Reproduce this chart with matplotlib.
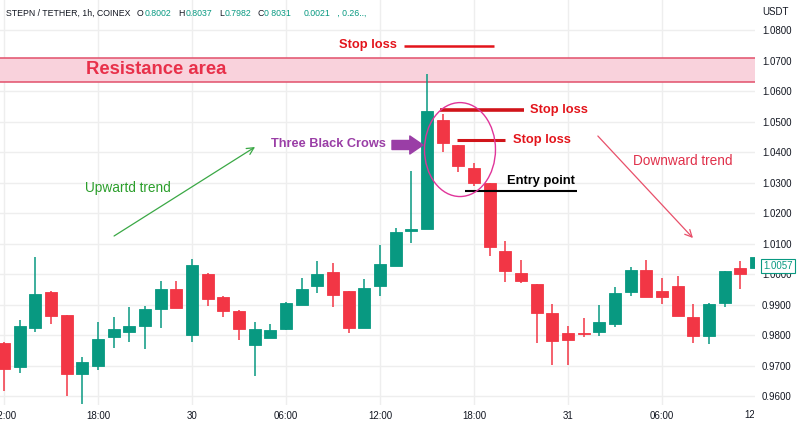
import matplotlib
matplotlib.use("Agg")
import matplotlib.pyplot as plt
from matplotlib.patches import Ellipse
from matplotlib.transforms import Bbox, TransformedBbox

# ---------------- data ----------------
opens = [0.9774, 0.9695, 0.9822, 0.9941, 0.9865, 0.9672, 0.9699, 0.9793, 0.9811, 0.9830,
         0.9885, 0.9950, 0.9801, 1.0001, 0.9926, 0.9880, 0.9766, 0.9791, 0.9820, 0.9898,
         0.9962, 1.0006, 0.9944, 0.9824, 0.9962, 1.0027, 1.0140, 1.0149, 1.0505, 1.0423,
         1.0347, 1.0299, 1.0075, 1.0002, 0.9966, 0.9871, 0.9807, 0.9807, 0.9810, 0.9837,
         0.9940, 1.0013, 0.9944, 0.9961, 0.9860, 0.9798, 0.9906, 1.0020, 1.0019]
highs = [0.9778, 0.9848, 1.0057, 0.9943, 0.9866, 0.9729, 0.9843, 0.9858, 0.9892, 0.9894,
         0.9977, 0.9977, 1.0049, 1.0002, 0.9927, 0.9882, 0.9844, 0.9836, 0.9909, 0.9987,
         1.0043, 1.0037, 0.9945, 0.9984, 1.0094, 1.0150, 1.0338, 1.0655, 1.0524, 1.0424,
         1.0363, 1.0300, 1.0108, 1.0046, 0.9967, 0.9902, 0.9830, 0.9855, 0.9899, 0.9957,
         1.0022, 1.0046, 0.9987, 0.9993, 0.9901, 0.9904, 1.0011, 1.0043, 1.0060]
lows = [0.9617, 0.9676, 0.9809, 0.9837, 0.9601, 0.9574, 0.9685, 0.9756, 0.9778, 0.9753,
        0.9822, 0.9887, 0.9778, 0.9896, 0.9859, 0.9785, 0.9666, 0.9790, 0.9815, 0.9897,
        0.9938, 0.9893, 0.9808, 0.9823, 0.9927, 1.0026, 1.0101, 1.0148, 1.0401, 1.0335,
        1.0290, 1.0059, 0.9975, 0.9971, 0.9775, 0.9702, 0.9702, 0.9794, 0.9796, 0.9827,
        0.9928, 0.9923, 0.9903, 0.9861, 0.9775, 0.9771, 0.9893, 0.9951, 1.0019]
closes = [0.9690, 0.9830, 0.9934, 0.9861, 0.9672, 0.9711, 0.9787, 0.9821, 0.9830, 0.9886,
          0.9952, 0.9889, 1.0030, 0.9917, 0.9878, 0.9820, 0.9821, 0.9815, 0.9905, 0.9950,
          1.0000, 0.9932, 0.9824, 0.9954, 1.0033, 1.0137, 1.0149, 1.0535, 1.0430, 1.0353,
          1.0299, 1.0088, 1.0011, 0.9977, 0.9873, 0.9780, 0.9784, 0.9803, 0.9843, 0.9937,
          1.0013, 0.9924, 0.9926, 0.9862, 0.9798, 0.9903, 1.0010, 1.0001, 1.0057]

tick_positions = [0, 6, 12, 18, 24, 30, 36, 42, 48]
tick_labels = ["12:00", "18:00", "30", "06:00", "12:00", "18:00", "31", "06:00", "12:00"]
price_ticks = [0.96, 0.97, 0.98, 0.99, 1.00, 1.01, 1.02, 1.03, 1.04, 1.05, 1.06, 1.07, 1.08]

resistance_low, resistance_high = 1.0630, 1.0709
last_price = 1.0057

# ---------------- style ----------------
UP = "#089981"
DOWN = "#f23645"
TXT = "#131722"
GRID = "#eeeeee"
FONT = "Liberation Sans"
plt.rcParams["font.family"] = [FONT, "DejaVu Sans"]

W, H = 800, 428
fig = plt.figure(figsize=(W / 100, H / 100), dpi=100)
fig.patch.set_facecolor("white")
ax = fig.add_axes([0, 23 / H, 755 / W, 405 / H])
ax.set_facecolor("white")

n = len(opens)
idx = list(range(n))

# grid
for t in tick_positions:
    ax.axvline(t, color=GRID, lw=1, zorder=0)
for p in price_ticks:
    ax.axhline(p, color=GRID, lw=1, zorder=0)

# resistance band
ax.axhspan(resistance_low, resistance_high, facecolor="#f9d2dc", edgecolor="none", zorder=1)
ax.axhline(resistance_high, color="#e2506b", lw=1.1, zorder=1.5)
ax.axhline(resistance_low, color="#e2506b", lw=1.1, zorder=1.5)

# candles
colors = [UP if c >= o else DOWN for o, c in zip(opens, closes)]
ax.vlines(idx, lows, highs, colors=colors, lw=1.1, zorder=2)
bottoms = [min(o, c) for o, c in zip(opens, closes)]
heights = [max(abs(c - o), 0.00035) for o, c in zip(opens, closes)]
ax.bar(idx, heights, bottom=bottoms, width=0.76, color=colors, edgecolor=colors,
       linewidth=0.6, zorder=3)

ax.set_xlim(-0.26, 47.93)
ax.set_ylim(0.95705, 1.08984)

# axes styling
for s in ax.spines.values():
    s.set_visible(False)
ax.yaxis.tick_right()
ax.set_yticks(price_ticks)
ax.set_yticklabels([f"{p:.4f}" for p in price_ticks])
ax.tick_params(axis="y", length=0, pad=5, labelsize=7, labelcolor=TXT)
ax.set_xticks(tick_positions[:-1])
ax.set_xticklabels(tick_labels[:-1])
ax.tick_params(axis="x", length=0, pad=4, labelsize=7, labelcolor=TXT)

# last x label, clipped at the price-scale edge like the original
t_last = ax.text(tick_positions[-1], -0.0135, tick_labels[-1], transform=ax.get_xaxis_transform(),
                 ha="center", va="top", fontsize=7, color=TXT, clip_on=True)
t_last.set_clip_box(TransformedBbox(Bbox.from_extents(0, 0, 754 / W, 1), fig.transFigure))

# ---------------- annotations ----------------
RED = "#e3141b"
ax.text(5.2, 1.0671, "Resistance area", color="#e8304a", fontsize=13.3, fontweight="bold",
        va="center", ha="left", zorder=5)

# stop loss lines
ax.plot([25.5, 31.3], [1.0748, 1.0748], color=RED, lw=1.8, zorder=5, solid_capstyle="butt")
ax.text(23.2, 1.0751, "Stop loss", color=RED, fontsize=9.3, fontweight="bold",
        ha="center", va="center", zorder=5)
ax.plot([27.8, 33.2], [1.0538, 1.0538], color="#d0141a", lw=2.6, zorder=5, solid_capstyle="butt")
ax.text(33.6, 1.0538, "Stop loss", color=RED, fontsize=9.3, fontweight="bold",
        ha="left", va="center", zorder=5)
ax.plot([28.9, 32.0], [1.0439, 1.0439], color="#d0141a", lw=2.2, zorder=5, solid_capstyle="butt")
ax.text(32.5, 1.0439, "Stop loss", color=RED, fontsize=9.3, fontweight="bold",
        ha="left", va="center", zorder=5)

# entry point
ax.plot([29.4, 36.6], [1.0272, 1.0272], color="black", lw=1.5, zorder=5, solid_capstyle="butt")
ax.text(32.1, 1.0305, "Entry point", color="black", fontsize=9.3, fontweight="bold",
        ha="left", va="center", zorder=5)

# ellipse
ax.add_patch(Ellipse((29.1, 1.0408), 4.53, 0.0308, fill=False, edgecolor="#e0359a",
                     lw=1.0, zorder=6))

# three black crows arrow
PURPLE = "#9a3ea6"
ax.annotate("", xy=(26.74, 1.0423), xytext=(24.76, 1.0423),
            arrowprops=dict(arrowstyle="simple,head_length=0.95,head_width=1.3,tail_width=0.65",
                            color=PURPLE, shrinkA=0, shrinkB=0), zorder=6)
ax.text(20.7, 1.0426, "Three Black Crows", color=PURPLE, fontsize=9.2, fontweight="bold",
        ha="center", va="center", zorder=5)

# trends
ax.annotate("", xy=(16.02, 1.04164), xytext=(7.02, 1.01246),
            arrowprops=dict(arrowstyle="->,head_length=0.5,head_width=0.25", color="#3aa845",
                            lw=0.9, shrinkA=0, shrinkB=0), zorder=5)
ax.text(7.9, 1.0282, "Upwartd trend", color="#2b9e2b", fontsize=9.8, ha="center",
        va="center", zorder=5)
ax.annotate("", xy=(43.97, 1.0118), xytext=(37.9, 1.04525),
            arrowprops=dict(arrowstyle="->,head_length=0.5,head_width=0.25", color="#e8506a",
                            lw=0.9, shrinkA=0, shrinkB=0), zorder=5)
ax.text(43.3, 1.0370, "Downward trend", color="#e0304a", fontsize=9.8, ha="center",
        va="center", zorder=5)

# ---------------- header & price scale extras ----------------
def fx(px):
    return px / W

def fy(py):
    return 1 - py / H

header = [
    (6, "STEPN / TETHER, 1h, COINEX", TXT),
    (137, "O", TXT), (145, "0.8002", UP),
    (178, "H", TXT), (186, "0.8037", UP),
    (219, "L", TXT), (225, "0.7982", UP),
    (257, "C", TXT), (264, "0 8031", UP),
    (304, "0.0021", UP), (335, " , 0.26..,", UP),
]
for px, s, col in header:
    fig.text(fx(px), fy(13), s, color=col, fontsize=6.3, ha="left", va="center")

fig.text(fx(762), fy(12), "USDT", color=TXT, fontsize=7, ha="left", va="center")
fig.text(fx(763), fy(266), f"{last_price:.4f}", color=UP, fontsize=7, ha="left", va="center",
         bbox=dict(boxstyle="square,pad=0.25", facecolor="white", edgecolor=UP, lw=0.8))

fig.savefig("out.png", dpi=100, facecolor="white")
